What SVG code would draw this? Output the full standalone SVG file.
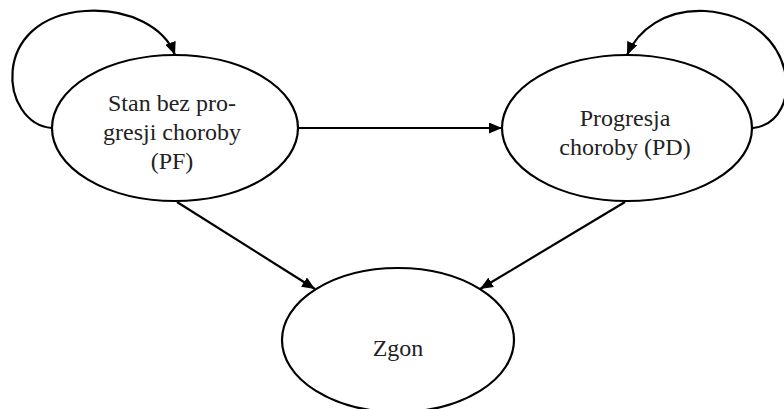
<svg xmlns="http://www.w3.org/2000/svg" width="784" height="409" viewBox="0 0 784 409">
<defs>
<style>
.node ellipse{fill:#fff;stroke:#000;stroke-width:2.2}
.node text{font-family:"Liberation Serif","Times New Roman",serif;font-size:24px;fill:#222;text-anchor:middle}
.edges path{fill:none;stroke:#000;stroke-width:2.2;marker-end:url(#arr)}
</style>
<marker id="arr" viewBox="0 0 13 11" refX="13" refY="5.5" markerWidth="13" markerHeight="11" markerUnits="userSpaceOnUse" orient="auto">
<path d="M0,0 L13,5.5 L0,11 Z" fill="#000"/>
</marker>
</defs>
<rect width="784" height="409" fill="#fff"/>
<g id="n-pf" class="node">
<ellipse cx="175" cy="128" rx="123" ry="73"/>
<text x="172" y="111">Stan bez pro-</text>
<text x="172" y="140">gresji choroby</text>
<text x="172" y="169">(PF)</text>
</g>
<g id="n-pd" class="node">
<ellipse cx="627" cy="128" rx="125" ry="73"/>
<text x="625" y="126">Progresja</text>
<text x="625" y="155">choroby (PD)</text>
</g>
<g id="n-zgon" class="node">
<ellipse cx="398" cy="340" rx="116" ry="72"/>
<text x="398" y="356">Zgon</text>
</g>
<g class="edges">
<path d="M52,128 C0,124 -12,18 85,11 C130,8 165,28 175,55"/>
<path d="M753,128 C806,122 800,18 705,11 C665,9 638,30 627,55"/>
<path d="M298,128 L502,128"/>
<path d="M177,202 L315,289"/>
<path d="M625,202 L480,289"/>
</g>
</svg>
